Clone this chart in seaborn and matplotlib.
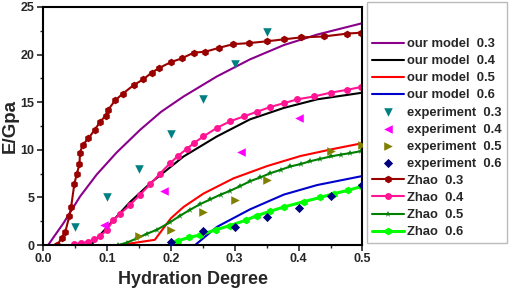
import matplotlib
matplotlib.use("Agg")
import matplotlib.pyplot as plt
import seaborn as sns

# our model curves
model03_x = [0.008, 0.032, 0.058, 0.084, 0.115, 0.152, 0.185, 0.22, 0.272, 0.324, 0.377, 0.429, 0.5]
model03_y = [0, 2.3, 5.1, 7.4, 9.7, 12.1, 14.0, 15.6, 17.7, 19.5, 21.0, 22.1, 23.3]
model04_x = [0, 0.075, 0.11, 0.136, 0.168, 0.22, 0.272, 0.324, 0.377, 0.429, 0.5]
model04_y = [0, 0, 2.6, 4.5, 6.5, 9.3, 11.4, 13.2, 14.4, 15.3, 16.0]
model05_x = [0, 0.12, 0.175, 0.2, 0.22, 0.251, 0.298, 0.351, 0.403, 0.455, 0.5]
model05_y = [0, 0, 0.55, 2.8, 4.0, 5.4, 7.0, 8.3, 9.35, 10.1, 10.7]
model06_x = [0, 0.238, 0.272, 0.324, 0.377, 0.429, 0.5]
model06_y = [0, 0, 1.9, 3.75, 5.3, 6.3, 7.25]

# experiments
exp03_x = [0.05, 0.1, 0.15, 0.2, 0.25, 0.3, 0.35]
exp03_y = [1.9, 5.0, 8.0, 11.7, 15.3, 19.0, 22.4]
exp04_x = [0.095, 0.19, 0.31, 0.40]
exp04_y = [2.1, 5.7, 9.8, 13.3]
exp05_x = [0.15, 0.2, 0.25, 0.3, 0.35, 0.45, 0.5]
exp05_y = [1.0, 1.6, 3.5, 4.7, 6.8, 9.9, 10.5]
exp06_x = [0.2, 0.25, 0.3, 0.35, 0.4, 0.45, 0.5]
exp06_y = [0.35, 1.5, 1.9, 2.9, 3.9, 5.1, 6.3]

# Zhao
zhao03_x = [0.022, 0.029, 0.035, 0.041, 0.044, 0.049, 0.053, 0.057, 0.058, 0.062, 0.071,
            0.081, 0.089, 0.098, 0.102, 0.113, 0.125, 0.142, 0.157, 0.17, 0.182, 0.2,
            0.217, 0.236, 0.254, 0.275, 0.298, 0.322, 0.351, 0.377, 0.403, 0.439, 0.476, 0.498]
zhao03_y = [0, 0.7, 1.4, 3.0, 4.0, 6.4, 7.5, 8.5, 9.7, 10.5, 11.2,
            12.1, 12.9, 13.6, 14.2, 15.2, 15.9, 16.8, 17.4, 18.1, 18.6, 19.2,
            19.6, 20.2, 20.3, 20.7, 21.1, 21.2, 21.4, 21.6, 21.8, 21.9, 22.2, 22.3]
zhao04_x = [0.048, 0.06, 0.071, 0.08, 0.089, 0.1, 0.11, 0.121, 0.136, 0.152, 0.168, 0.183,
            0.199, 0.212, 0.225, 0.236, 0.251, 0.272, 0.293, 0.314, 0.335, 0.356, 0.377,
            0.398, 0.424, 0.45, 0.476, 0.498]
zhao04_y = [0.1, 0.2, 0.35, 0.6, 0.9, 1.6, 2.6, 3.3, 4.2, 5.3, 6.4, 7.5,
            8.6, 9.4, 10.1, 10.7, 11.4, 12.3, 13.0, 13.5, 14.0, 14.5, 14.9,
            15.3, 15.6, 16.0, 16.3, 16.6]
zhao05_x = [0.118, 0.131, 0.147, 0.163, 0.178, 0.199, 0.215, 0.23, 0.246, 0.262, 0.278,
            0.293, 0.309, 0.324, 0.34, 0.356, 0.372, 0.387, 0.403, 0.418, 0.434, 0.45,
            0.466, 0.481, 0.497]
zhao05_y = [0, 0.25, 0.7, 1.2, 1.6, 2.4, 3.1, 3.7, 4.3, 4.8, 5.3,
            5.7, 6.2, 6.7, 7.1, 7.55, 7.9, 8.25, 8.5, 8.8, 9.05, 9.3,
            9.5, 9.65, 9.85]
zhao06_x = [0.2, 0.212, 0.228, 0.246, 0.27, 0.293, 0.317, 0.335, 0.356, 0.377, 0.408,
            0.434, 0.455, 0.478, 0.498]
zhao06_y = [0.25, 0.45, 0.8, 1.05, 1.6, 2.05, 2.6, 3.1, 3.55, 4.0, 4.55,
            5.0, 5.4, 5.75, 6.15]

x_ticks = [0.0, 0.1, 0.2, 0.3, 0.4, 0.5]
y_ticks = [0, 5, 10, 15, 20, 25]

sns.set_style("ticks")
plt.rcParams["font.family"] = ["Liberation Sans", "DejaVu Sans"]
plt.rcParams["font.weight"] = "bold"

fig = plt.figure(figsize=(5.12, 2.9), dpi=100)
ax = fig.add_axes([0.084, 0.155, 0.624, 0.821])

models = [
    (model03_x, model03_y, "#8B008B", "our model  0.3"),
    (model04_x, model04_y, "black", "our model  0.4"),
    (model05_x, model05_y, "#FF0000", "our model  0.5"),
    (model06_x, model06_y, "#0000CC", "our model  0.6"),
]
for xs, ys, c, lab in models:
    sns.lineplot(x=xs, y=ys, color=c, lw=1.5, label=lab, sort=False,
                 estimator=None, ax=ax)

exps = [
    (exp03_x, exp03_y, "#008080", "v", "experiment  0.3"),
    (exp04_x, exp04_y, "#FF00FF", "<", "experiment  0.4"),
    (exp05_x, exp05_y, "#808000", ">", "experiment  0.5"),
    (exp06_x, exp06_y, "#000080", "D", "experiment  0.6"),
]
for xs, ys, c, m, lab in exps:
    sns.scatterplot(x=xs, y=ys, color=c, marker=m, s=38 if m != "D" else 22,
                    linewidth=0, label=lab, ax=ax, zorder=3)

zhaos = [
    (zhao03_x, zhao03_y, "#990000", "h", 5.5, 1.5, "Zhao  0.3"),
    (zhao04_x, zhao04_y, "#FF1493", "o", 5, 1.5, "Zhao  0.4"),
    (zhao05_x, zhao05_y, "#008000", "*", 5, 1.5, "Zhao  0.5"),
    (zhao06_x, zhao06_y, "#00FF00", "h", 5.5, 2.2, "Zhao  0.6"),
]
for xs, ys, c, m, ms, lw, lab in zhaos:
    sns.lineplot(x=xs, y=ys, color=c, marker=m, markersize=ms, markeredgewidth=0,
                 lw=lw, label=lab, sort=False, estimator=None, ax=ax)

ax.set_xlim(0, 0.5)
ax.set_ylim(0, 25)
ax.set_xticks(x_ticks, [f"{v:.1f}" for v in x_ticks])
ax.set_yticks(y_ticks)
ax.set_xticks([0.05, 0.15, 0.25, 0.35, 0.45], minor=True)
ax.set_yticks([2.5, 7.5, 12.5, 17.5, 22.5], minor=True)
ax.tick_params(which="major", direction="out", length=4, width=1.2, labelsize=9, pad=2)
ax.tick_params(which="minor", direction="out", length=2.5, width=1)
for lbl in ax.get_xticklabels() + ax.get_yticklabels():
    lbl.set_fontweight("bold")
for sp in ax.spines.values():
    sp.set_linewidth(1.5)
    sp.set_color("black")

ax.set_xlabel("Hydration Degree", fontsize=13, fontweight="bold")
ax.set_ylabel("E/Gpa", fontsize=13.5, fontweight="bold")
ax.xaxis.set_label_coords(0.47, -0.11)
ax.yaxis.set_label_coords(-0.075, 0.5)

leg = ax.legend(loc="upper left", bbox_to_anchor=(0.717, 0.993),
                bbox_transform=fig.transFigure, borderaxespad=0, frameon=True,
                fancybox=False, edgecolor="#aaaaaa", title="\n",
                title_fontsize=9.5, handlelength=2.4, handletextpad=0.25,
                labelspacing=0.38, borderpad=0.4, prop={"weight": "bold", "size": 9.4})
leg.get_frame().set_linewidth(1)

fig.savefig("out.png", dpi=100)
